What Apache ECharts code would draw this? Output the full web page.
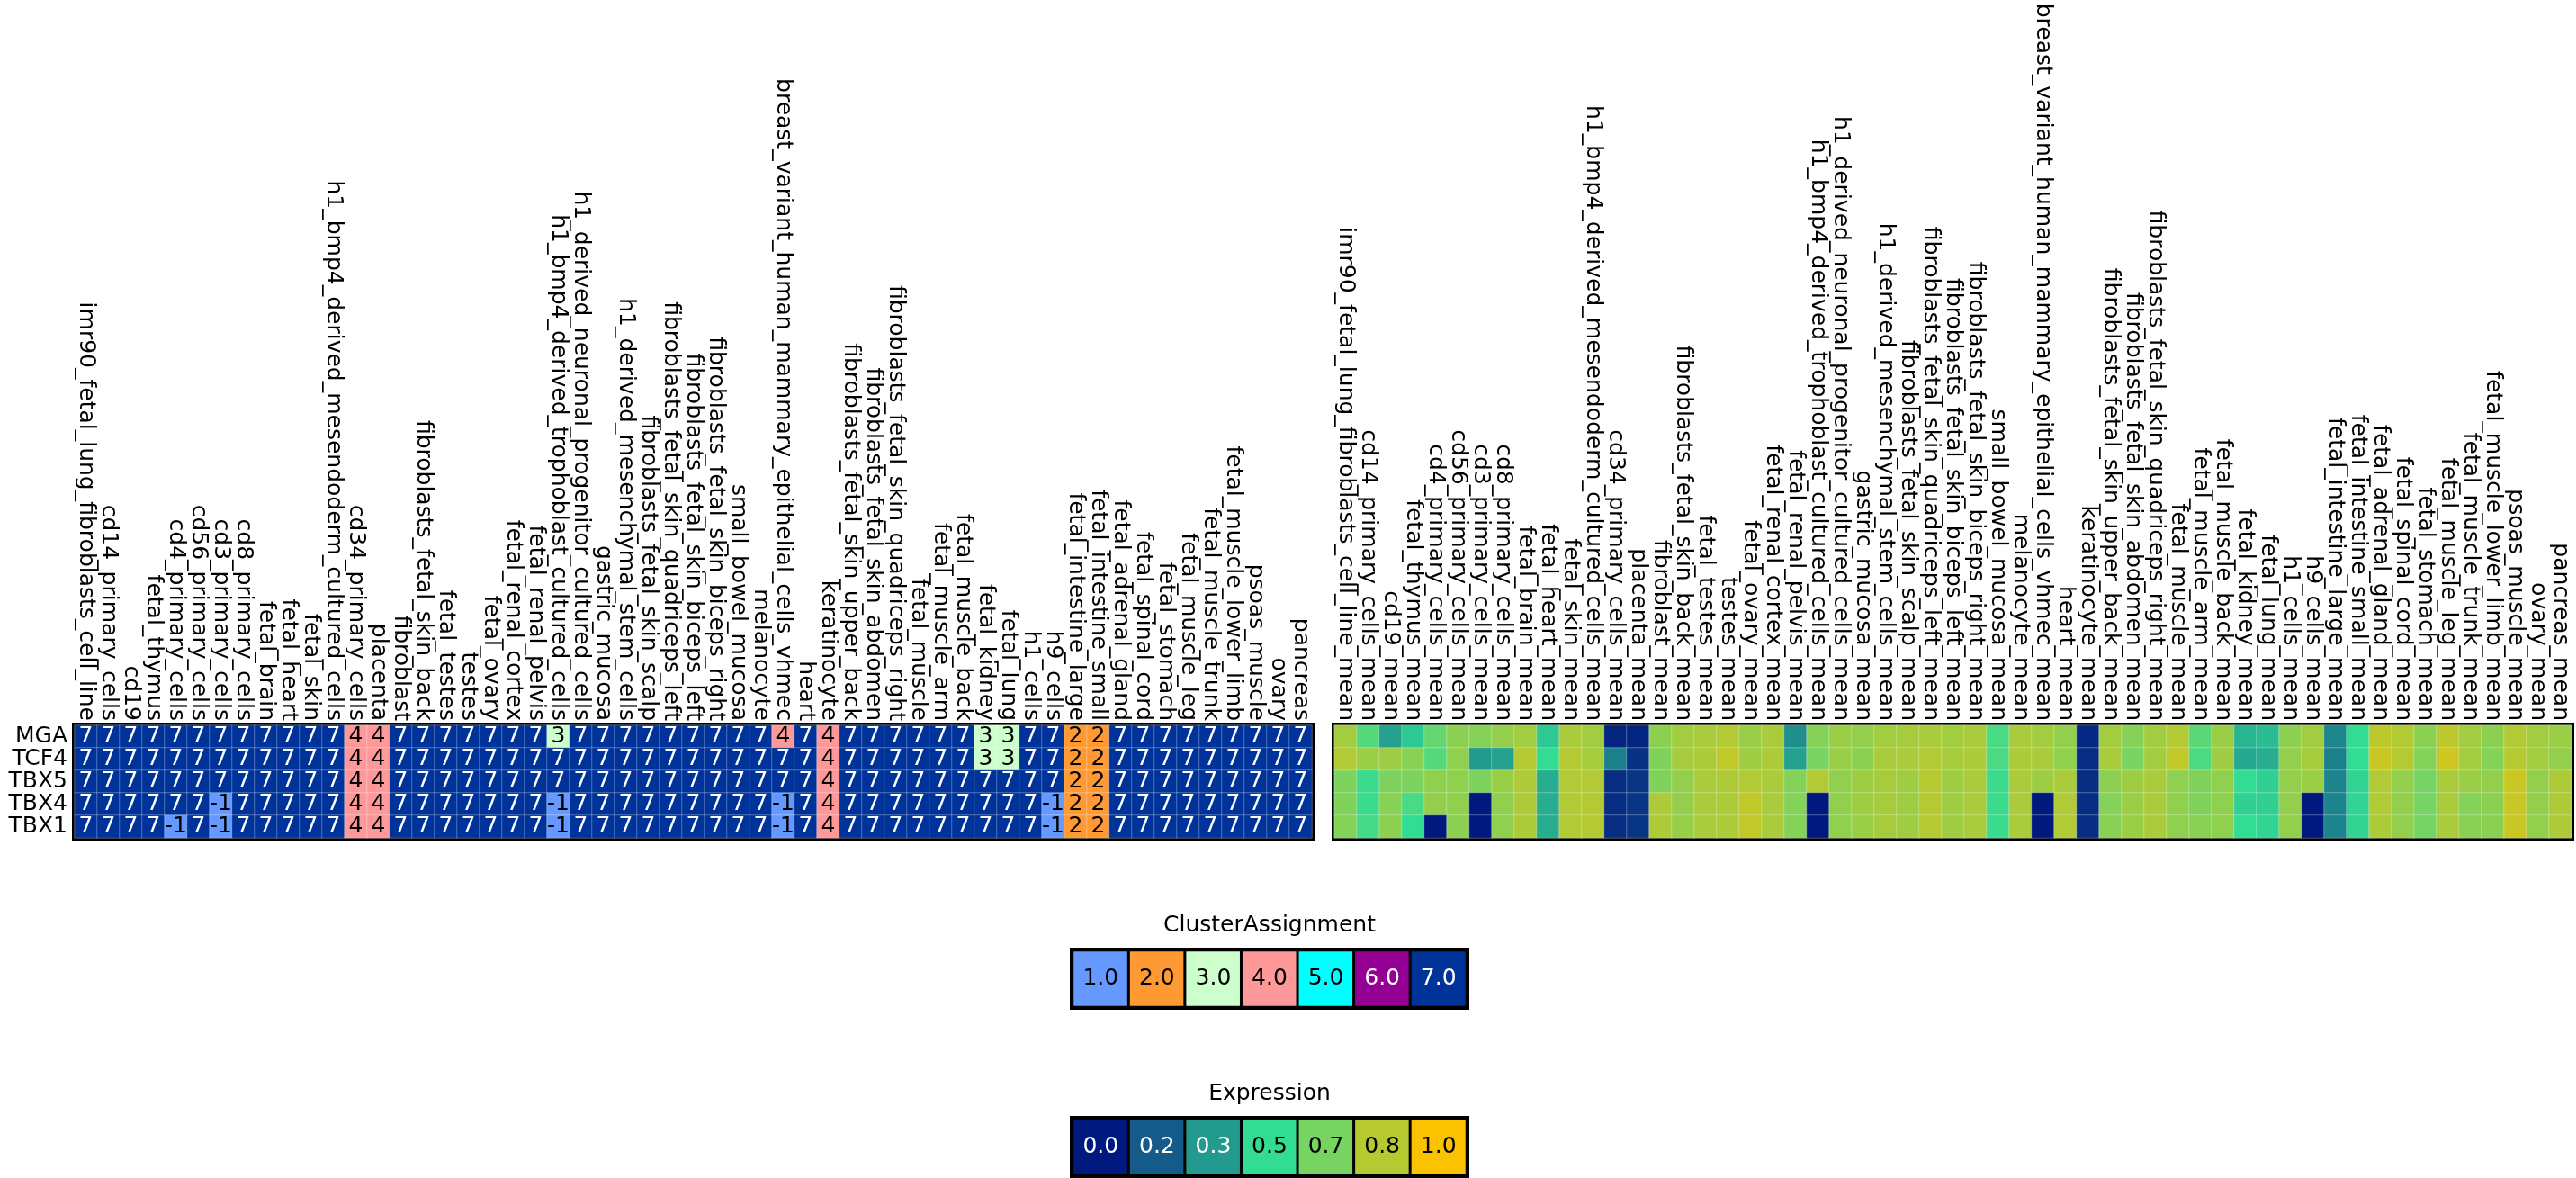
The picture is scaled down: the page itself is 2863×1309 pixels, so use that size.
<!DOCTYPE html>
<html><head><meta charset="utf-8">
<script src="https://cdn.jsdelivr.net/npm/echarts@6/dist/echarts.min.js"></script>
<style>html,body{margin:0;padding:0;background:#fff}#c{width:2863px;height:1309px}</style>
</head><body><div id="c"></div>
<script>
const genes = ['MGA','TCF4','TBX5','TBX4','TBX1'];
const tissues = ['imr90_fetal_lung_fibroblasts_cell_line','cd14_primary_cells','cd19','fetal_thymus','cd4_primary_cells','cd56_primary_cells','cd3_primary_cells','cd8_primary_cells','fetal_brain','fetal_heart','fetal_skin','h1_bmp4_derived_mesendoderm_cultured_cells','cd34_primary_cells','placenta','fibroblast','fibroblasts_fetal_skin_back','fetal_testes','testes','fetal_ovary','fetal_renal_cortex','fetal_renal_pelvis','h1_bmp4_derived_trophoblast_cultured_cells','h1_derived_neuronal_progenitor_cultured_cells','gastric_mucosa','h1_derived_mesenchymal_stem_cells','fibroblasts_fetal_skin_scalp','fibroblasts_fetal_skin_quadriceps_left','fibroblasts_fetal_skin_biceps_left','fibroblasts_fetal_skin_biceps_right','small_bowel_mucosa','melanocyte','breast_variant_human_mammary_epithelial_cells_vhmec','heart','keratinocyte','fibroblasts_fetal_skin_upper_back','fibroblasts_fetal_skin_abdomen','fibroblasts_fetal_skin_quadriceps_right','fetal_muscle','fetal_muscle_arm','fetal_muscle_back','fetal_kidney','fetal_lung','h1_cells','h9_cells','fetal_intestine_large','fetal_intestine_small','fetal_adrenal_gland','fetal_spinal_cord','fetal_stomach','fetal_muscle_leg','fetal_muscle_trunk','fetal_muscle_lower_limb','psoas_muscle','ovary','pancreas'];
const tissueMeans = tissues.map(t => t + '_mean');

// Cluster assignment per gene (columns follow `tissues`)
const clusterMGA  = [7,7,7,7,7,7,7,7,7,7,7,7,4,4,7,7,7,7,7,7,7,3,7,7,7,7,7,7,7,7,7,4,7,4,7,7,7,7,7,7,3,3,7,7,2,2,7,7,7,7,7,7,7,7,7];
const clusterTCF4 = [7,7,7,7,7,7,7,7,7,7,7,7,4,4,7,7,7,7,7,7,7,7,7,7,7,7,7,7,7,7,7,7,7,4,7,7,7,7,7,7,3,3,7,7,2,2,7,7,7,7,7,7,7,7,7];
const clusterTBX5 = [7,7,7,7,7,7,7,7,7,7,7,7,4,4,7,7,7,7,7,7,7,7,7,7,7,7,7,7,7,7,7,7,7,4,7,7,7,7,7,7,7,7,7,7,2,2,7,7,7,7,7,7,7,7,7];
const clusterTBX4 = [7,7,7,7,7,7,-1,7,7,7,7,7,4,4,7,7,7,7,7,7,7,-1,7,7,7,7,7,7,7,7,7,-1,7,4,7,7,7,7,7,7,7,7,7,-1,2,2,7,7,7,7,7,7,7,7,7];
const clusterTBX1 = [7,7,7,7,-1,7,-1,7,7,7,7,7,4,4,7,7,7,7,7,7,7,-1,7,7,7,7,7,7,7,7,7,-1,7,4,7,7,7,7,7,7,7,7,7,-1,2,2,7,7,7,7,7,7,7,7,7];

// Mean expression per gene (columns follow `tissueMeans`)
const exprMGA  = [0.78,0.58,0.35,0.45,0.62,0.72,0.70,0.74,0.78,0.45,0.80,0.78,0.03,0.03,0.72,0.78,0.80,0.82,0.76,0.80,0.30,0.70,0.76,0.74,0.78,0.79,0.80,0.78,0.80,0.55,0.80,0.78,0.74,0.04,0.78,0.70,0.78,0.82,0.60,0.76,0.40,0.42,0.72,0.78,0.28,0.50,0.85,0.82,0.72,0.85,0.78,0.72,0.82,0.78,0.76];
const exprTCF4 = [0.82,0.76,0.77,0.71,0.58,0.73,0.33,0.35,0.83,0.50,0.83,0.79,0.26,0.06,0.69,0.79,0.81,0.86,0.77,0.81,0.35,0.67,0.76,0.72,0.80,0.80,0.82,0.79,0.81,0.56,0.81,0.80,0.73,0.05,0.80,0.67,0.78,0.86,0.56,0.77,0.37,0.38,0.74,0.79,0.26,0.50,0.88,0.83,0.70,0.89,0.78,0.70,0.83,0.78,0.74];
const exprTBX5 = [0.68,0.52,0.68,0.68,0.73,0.73,0.68,0.76,0.81,0.38,0.82,0.82,0.05,0.07,0.69,0.74,0.80,0.81,0.82,0.80,0.70,0.82,0.73,0.77,0.79,0.77,0.83,0.77,0.80,0.52,0.80,0.77,0.80,0.05,0.72,0.77,0.80,0.73,0.69,0.73,0.50,0.47,0.74,0.76,0.27,0.48,0.82,0.74,0.66,0.80,0.76,0.74,0.88,0.74,0.81];
const exprTBX4 = [0.69,0.52,0.71,0.55,0.74,0.73,0.00,0.73,0.81,0.38,0.82,0.83,0.05,0.07,0.81,0.74,0.80,0.81,0.86,0.80,0.70,0.00,0.73,0.77,0.79,0.77,0.83,0.77,0.80,0.52,0.80,0.00,0.82,0.05,0.70,0.76,0.80,0.73,0.69,0.73,0.47,0.47,0.74,0.00,0.27,0.48,0.82,0.74,0.66,0.80,0.70,0.72,0.88,0.74,0.81];
const exprTBX1 = [0.70,0.54,0.72,0.50,0.00,0.72,0.00,0.73,0.81,0.38,0.82,0.83,0.05,0.07,0.81,0.75,0.80,0.81,0.86,0.80,0.70,0.00,0.73,0.76,0.79,0.77,0.83,0.77,0.80,0.52,0.80,0.00,0.82,0.05,0.71,0.76,0.80,0.73,0.71,0.73,0.50,0.48,0.74,0.00,0.27,0.48,0.81,0.74,0.66,0.80,0.71,0.72,0.88,0.74,0.81];

// Legend (colour key) levels and tick labels
const clusterLevels = [1,2,3,4,5,6,7];
const clusterTicks = ['1.0','2.0','3.0','4.0','5.0','6.0','7.0'];
const exprLevels = [0,0.1667,0.3333,0.5,0.6667,0.8333,1];
const exprTicks = ['0.0','0.2','0.3','0.5','0.7','0.8','1.0'];

const clusterRows = [clusterMGA, clusterTCF4, clusterTBX5, clusterTBX4, clusterTBX1];
const exprRows = [exprMGA, exprTCF4, exprTBX5, exprTBX4, exprTBX1];

const FONT = 'DejaVu Sans';
const FS = 25;

const clusterData = [];
clusterRows.forEach((row, r) => row.forEach((v, c) => clusterData.push([c, r, v])));
const exprData = [];
exprRows.forEach((row, r) => row.forEach((v, c) => exprData.push([c, r, v])));
const clusterLegendData = clusterLevels.map((v, i) => [i, 0, v]);
const exprLegendData = exprLevels.map((v, i) => [i, 0, v]);

const HM_TOP = 806, HM_H = 125;
const grids = [
  {left: 83, top: HM_TOP, width: 1375, height: HM_H},
  {left: 1483, top: HM_TOP, width: 1375, height: HM_H},
  {left: 1192, top: 1056, width: 438, height: 63},
  {left: 1192, top: 1243, width: 438, height: 63}
].map(g => Object.assign({show: true, borderColor: '#000', borderWidth: 6, backgroundColor: 'transparent', containLabel: false}, g));

const colLabel = {rotate: 90, interval: 0, fontSize: FS, color: '#000', fontFamily: FONT, margin: 5};
const hidden = {show: false};

const option = {
  backgroundColor: '#fff',
  animation: false,
  grid: grids,
  xAxis: [
    {gridIndex: 0, type: 'category', data: tissues, position: 'top', axisLabel: colLabel, axisTick: hidden, axisLine: hidden, splitLine: hidden},
    {gridIndex: 1, type: 'category', data: tissueMeans, position: 'top', axisLabel: colLabel, axisTick: hidden, axisLine: hidden, splitLine: hidden},
    {gridIndex: 2, type: 'category', data: clusterTicks, position: 'top', axisLabel: hidden, axisTick: hidden, axisLine: hidden,
     name: 'ClusterAssignment', nameLocation: 'middle', nameGap: 15, nameTextStyle: {fontSize: FS, color: '#000', fontFamily: FONT}},
    {gridIndex: 3, type: 'category', data: exprTicks, position: 'top', axisLabel: hidden, axisTick: hidden, axisLine: hidden,
     name: 'Expression', nameLocation: 'middle', nameGap: 15, nameTextStyle: {fontSize: FS, color: '#000', fontFamily: FONT}}
  ],
  yAxis: [
    {gridIndex: 0, type: 'category', data: genes, inverse: true, axisLabel: {interval: 0, fontSize: FS, color: '#000', fontFamily: FONT, margin: 8}, axisTick: hidden, axisLine: hidden},
    {gridIndex: 1, type: 'category', data: genes, inverse: true, axisLabel: hidden, axisTick: hidden, axisLine: hidden},
    {gridIndex: 2, type: 'category', data: [''], axisLabel: hidden, axisTick: hidden, axisLine: hidden},
    {gridIndex: 3, type: 'category', data: [''], axisLabel: hidden, axisTick: hidden, axisLine: hidden}
  ],
  visualMap: [
    {type: 'piecewise', show: false, seriesIndex: [0, 2], dimension: 2, pieces: [
      {lte: 1.5, color: '#6699ff'},
      {gt: 1.5, lte: 2.5, color: '#ff9933'},
      {gt: 2.5, lte: 3.5, color: '#ccffcc'},
      {gt: 3.5, lte: 4.5, color: '#ff9999'},
      {gt: 4.5, lte: 5.5, color: '#00ffff'},
      {gt: 5.5, lte: 6.5, color: '#940094'},
      {gt: 6.5, color: '#003399'}
    ]},
    {type: 'continuous', show: false, seriesIndex: [1, 3], dimension: 2, min: 0, max: 1,
     inRange: {color: ['#00197f', '#145b8a', '#229b8e', '#33dc93', '#78d462', '#b6c931', '#fbc200']}}
  ],
  series: [
    {type: 'heatmap', xAxisIndex: 0, yAxisIndex: 0, data: clusterData,
     itemStyle: {borderColor: 'rgba(255,255,255,0.28)', borderWidth: 1},
     label: {show: true, fontSize: FS, fontFamily: FONT,
       formatter: p => (p.value[2] >= 6 ? '{w|' : '{k|') + p.value[2] + '}',
       rich: {w: {color: '#fff', fontSize: FS, fontFamily: FONT}, k: {color: '#000', fontSize: FS, fontFamily: FONT}}},
     emphasis: {disabled: true}},
    {type: 'heatmap', xAxisIndex: 1, yAxisIndex: 1, data: exprData,
     itemStyle: {borderColor: 'rgba(255,255,255,0.28)', borderWidth: 1},
     emphasis: {disabled: true}},
    {type: 'heatmap', xAxisIndex: 2, yAxisIndex: 2, data: clusterLegendData,
     itemStyle: {borderColor: '#000', borderWidth: 3},
     label: {show: true, fontSize: FS, fontFamily: FONT,
       formatter: p => (p.value[2] >= 6 ? '{w|' : '{k|') + clusterTicks[p.value[0]] + '}',
       rich: {w: {color: '#fff', fontSize: FS, fontFamily: FONT}, k: {color: '#000', fontSize: FS, fontFamily: FONT}}},
     emphasis: {disabled: true}},
    {type: 'heatmap', xAxisIndex: 3, yAxisIndex: 3, data: exprLegendData,
     itemStyle: {borderColor: '#000', borderWidth: 3},
     label: {show: true, fontSize: FS, fontFamily: FONT,
       formatter: p => (p.value[2] < 0.4 ? '{w|' : '{k|') + exprTicks[p.value[0]] + '}',
       rich: {w: {color: '#fff', fontSize: FS, fontFamily: FONT}, k: {color: '#000', fontSize: FS, fontFamily: FONT}}},
     emphasis: {disabled: true}}
  ]
};
const chart = echarts.init(document.getElementById('c'), null, {renderer: 'canvas'});
chart.setOption(option);
</script>
</body></html>
